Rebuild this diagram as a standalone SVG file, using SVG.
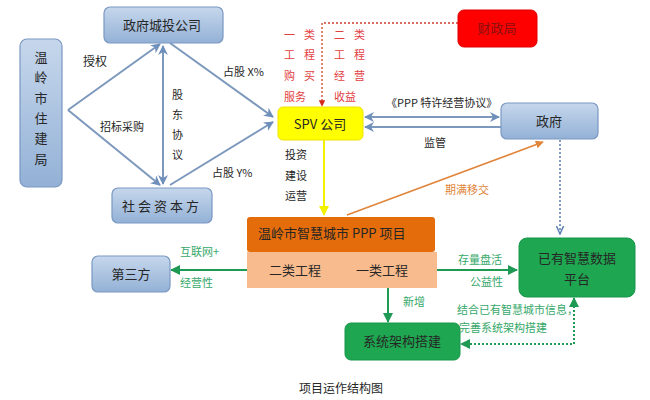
<svg xmlns="http://www.w3.org/2000/svg" width="650" height="400" viewBox="0 0 650 400">
<style>
text{font-family:"Noto Sans CJK SC","Liberation Sans",sans-serif;fill:#262626;}
.box{fill:url(#gb);stroke:#7a98c2;stroke-width:1.2;}
.bt{font-size:13px;text-anchor:middle;}
.lb{font-size:11px;}
.red{fill:#e2403f;font-size:11px;}
.sp{letter-spacing:9px;}
.grn{fill:#36a86a;font-size:11px;}
.gbox{fill:#1ea650;stroke:#17964a;stroke-width:1;}
.bl{stroke:#7d98bd;stroke-width:2;fill:none;}
</style>
<defs>
<linearGradient id="gb" x1="0" y1="0" x2="0" y2="1">
<stop offset="0" stop-color="#c6d7ec"/><stop offset="1" stop-color="#93b1d6"/>
</linearGradient>
<marker id="ab" viewBox="0 0 10 10" refX="9" refY="5" markerWidth="5" markerHeight="5" orient="auto-start-reverse"><path d="M0,0L10,5L0,10L3,5z" fill="#6f8fbb"/></marker>
<marker id="ay" viewBox="0 0 10 10" refX="9" refY="5" markerWidth="5" markerHeight="5" orient="auto"><path d="M0,0L10,5L0,10z" fill="#f2f200"/></marker>
<marker id="ar" viewBox="0 0 10 10" refX="9" refY="5" markerWidth="5" markerHeight="5" orient="auto"><path d="M0,0L10,5L0,10z" fill="#d22a1a"/></marker>
<marker id="ag" viewBox="0 0 10 10" refX="9" refY="5" markerWidth="5" markerHeight="5" orient="auto-start-reverse"><path d="M0,0L10,5L0,10z" fill="#1f9a55"/></marker>
<marker id="ao" viewBox="0 0 10 10" refX="9" refY="5" markerWidth="5" markerHeight="5" orient="auto"><path d="M0,0L10,5L0,10z" fill="#e0853a"/></marker>
<marker id="av" viewBox="0 0 10 10" refX="9" refY="5" markerWidth="6" markerHeight="6" orient="auto"><path d="M0,1L9,5L0,9" fill="none" stroke="#5a7eb0" stroke-width="1.6"/></marker>
</defs>
<rect width="650" height="400" fill="#ffffff"/>

<g id="connectors">
<line class="bl" x1="68" y1="110" x2="160" y2="44" marker-end="url(#ab)"/>
<line class="bl" x1="68" y1="110" x2="160" y2="185" marker-end="url(#ab)"/>
<line class="bl" x1="163" y1="46" x2="163" y2="184" marker-start="url(#ab)" marker-end="url(#ab)"/>
<line class="bl" x1="170" y1="43" x2="273" y2="117" marker-end="url(#ab)"/>
<line class="bl" x1="170" y1="185" x2="273" y2="122" marker-end="url(#ab)"/>
<line class="bl" x1="365" y1="117" x2="499" y2="117" marker-start="url(#ab)" marker-end="url(#ab)"/>
<line class="bl" x1="501" y1="127" x2="365" y2="127" marker-end="url(#ab)"/>
<polyline points="458,23 322,23 322,106" fill="none" stroke="#d23a2a" stroke-width="1.3" stroke-dasharray="2,2" marker-end="url(#ar)"/>
<line x1="324" y1="140" x2="324" y2="215" stroke="#f2f200" stroke-width="2" marker-end="url(#ay)"/>
<line x1="347" y1="215" x2="543" y2="142" stroke="#e0853a" stroke-width="1.6" marker-end="url(#ao)"/>
<line x1="560" y1="140" x2="560" y2="234" stroke="#5a7eb0" stroke-width="1.5" stroke-dasharray="2,2" marker-end="url(#av)"/>
<line x1="247" y1="270" x2="171" y2="270" stroke="#1f9a55" stroke-width="2" marker-end="url(#ag)"/>
<line x1="437" y1="270" x2="517" y2="270" stroke="#1f9a55" stroke-width="2" marker-end="url(#ag)"/>
<line x1="388" y1="288" x2="388" y2="322" stroke="#1f9a55" stroke-width="2" marker-end="url(#ag)"/>
<polyline points="574,298 574,344 461,344" fill="none" stroke="#1f9a55" stroke-width="2" stroke-dasharray="2,2" marker-start="url(#ag)" marker-end="url(#ag)"/>
</g>

<g id="zhujianju">
<rect class="box" x="20" y="39" width="42" height="148" rx="7"/>
<text class="bt" x="41" y="62">温</text>
<text class="bt" x="41" y="82">岭</text>
<text class="bt" x="41" y="103">市</text>
<text class="bt" x="41" y="123">住</text>
<text class="bt" x="41" y="143">建</text>
<text class="bt" x="41" y="164">局</text>
</g>

<g id="chengtou">
<rect class="box" x="104" y="7" width="119" height="36" rx="6"/>
<text class="bt" x="162" y="30">政府城投公司</text>
</g>

<g id="shehui">
<rect class="box" x="112" y="188" width="100" height="35" rx="6"/>
<text class="bt" x="162" y="211" letter-spacing="3">社会资本方</text>
</g>

<g id="spv">
<rect x="278" y="107" width="85" height="33" rx="5" fill="#ffff00" stroke="#f0e000"/>
<text class="bt" x="320" y="129" font-family="Liberation Serif,Noto Sans CJK SC,serif">SPV 公司</text>
</g>

<g id="caizhengju">
<rect x="458" y="10" width="79" height="37" rx="6" fill="#ff0000" stroke="#e00000"/>
<text class="bt" x="497" y="33" style="fill:#8a1010">财政局</text>
</g>

<g id="zhengfu">
<rect class="box" x="501" y="103" width="97" height="36" rx="6"/>
<text class="bt" x="549" y="126">政府</text>
</g>

<g id="project">
<rect x="247" y="252" width="190" height="36" fill="#f8bb8e"/>
<rect x="247" y="217" width="188" height="35" rx="3" fill="#e46c0a"/>
<text x="258" y="238" font-size="13">温岭市智慧城市 PPP 项目</text>
<text class="bt" x="295" y="275">二类工程</text>
<text class="bt" x="382" y="275">一类工程</text>
</g>

<g id="disanfang">
<rect class="box" x="92" y="256" width="78" height="36" rx="6"/>
<text class="bt" x="131" y="279">第三方</text>
</g>

<g id="shujupingtai">
<rect class="gbox" x="519" y="238" width="116" height="59" rx="8"/>
<text class="bt" x="577" y="263">已有智慧数据</text>
<text class="bt" x="577" y="284">平台</text>
</g>

<g id="xitong">
<rect class="gbox" x="345" y="323" width="115" height="37" rx="6"/>
<text class="bt" x="402" y="346">系统架构搭建</text>
</g>

<g id="labels">
<text x="83" y="66" font-size="12">授权</text>
<text class="lb" x="100" y="131">招标采购</text>
<text class="lb" x="172" y="99">股</text>
<text class="lb" x="172" y="119">东</text>
<text class="lb" x="172" y="139">协</text>
<text class="lb" x="172" y="159">议</text>
<text class="lb" x="223" y="76">占股 X%</text>
<text class="lb" x="212" y="177">占股 Y%</text>
<text class="red sp" x="284" y="39">一类</text>
<text class="red sp" x="284" y="59">工程</text>
<text class="red sp" x="284" y="80">购买</text>
<text class="red" x="284" y="101">服务</text>
<text class="red sp" x="334" y="39">二类</text>
<text class="red sp" x="334" y="59">工程</text>
<text class="red sp" x="334" y="80">经营</text>
<text class="red" x="334" y="101">收益</text>
<text class="lb" x="386" y="107">《PPP 特许经营协议》</text>
<text class="lb" x="424" y="147">监管</text>
<text class="lb" x="285" y="159">投资</text>
<text class="lb" x="285" y="180">建设</text>
<text class="lb" x="285" y="200">运营</text>
<text x="445" y="194" font-size="11" style="fill:#e0853a">期满移交</text>
<text class="grn" x="180" y="256">互联网+</text>
<text class="grn" x="180" y="287">经营性</text>
<text class="grn" x="458" y="264">存量盘活</text>
<text class="grn" x="470" y="286">公益性</text>
<text class="grn" x="403" y="306">新增</text>
<text class="grn" x="457" y="314">结合已有智慧城市信息，</text>
<text class="grn" x="459" y="332">完善系统架构搭建</text>
</g>

<text x="341" y="393" font-size="12" text-anchor="middle">项目运作结构图</text>
</svg>
